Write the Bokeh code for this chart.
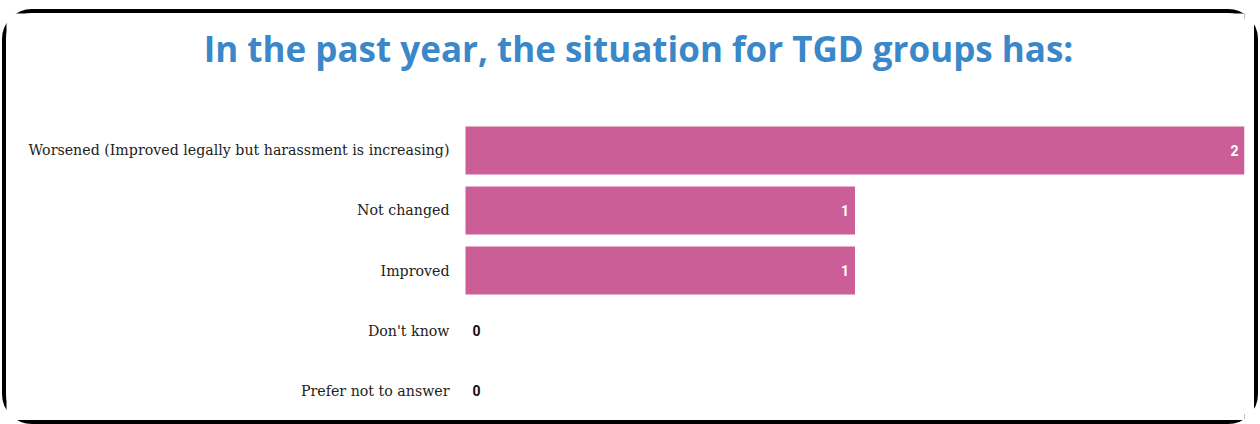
from bokeh.plotting import figure
from bokeh.models import ColumnDataSource, Range1d, Label
from bokeh.core.properties import value
from bokeh.embed import file_html
from bokeh.resources import INLINE

title_text = "In the past year, the situation for TGD groups has:"
categories = [
    "Worsened (Improved legally but harassment is increasing)",
    "Not changed",
    "Improved",
    "Don't know",
    "Prefer not to answer",
]
counts = [2, 1, 1, 0, 0]

bar_color = "#cb5e96"
title_color = "#3a88c9"

n = len(categories)
src = ColumnDataSource(dict(
    cat=categories,
    pos=[n - 1 - i for i in range(n)],  # first category at the top
    val=counts,
    zero=[0] * n,
    lbl=[str(v) for v in counts],
    off=[-6 if v > 0 else 7 for v in counts],
    align=["right" if v > 0 else "left" for v in counts],
    col=["white" if v > 0 else "#111111" for v in counts],
))

p = figure(
    width=1256, height=415,
    y_range=Range1d(-0.633, n - 1 + 2.283),
    x_range=Range1d(-1.1784, max(counts)),
    output_backend="svg", toolbar_location=None,
    min_border_left=0, min_border_right=18, min_border_top=0, min_border_bottom=0,
)
p.styles = {"border": "4px solid black", "border-radius": "30px",
            "margin-left": "2px", "margin-top": "9px"}

p.hbar(y="pos", right="val", left=0, height=0.8, fill_color=bar_color, line_color=None, source=src)
p.text(x="val", y="pos", text="lbl", x_offset="off", text_align="align",
       text_baseline="middle", text_color="col", text_font=value("Roboto"),
       text_font_style="bold", text_font_size="14px", source=src)
p.text(x="zero", y="pos", text="cat", x_offset=-16, text_align="right",
       text_baseline="middle", text_color="#222222", text_font=value("DejaVu Serif"),
       text_font_size="14.2px", source=src)

p.add_layout(Label(x=632, y=380, x_units="screen", y_units="screen", text=title_text,
                   text_align="center", text_baseline="alphabetic",
                   text_font="Open Sans", text_font_style="bold", text_font_size="35px",
                   text_color=title_color))

p.xaxis.visible = False
p.yaxis.visible = False
p.xgrid.visible = False
p.ygrid.visible = False
p.outline_line_color = None

open("out.html", "w").write(file_html(p, INLINE))
